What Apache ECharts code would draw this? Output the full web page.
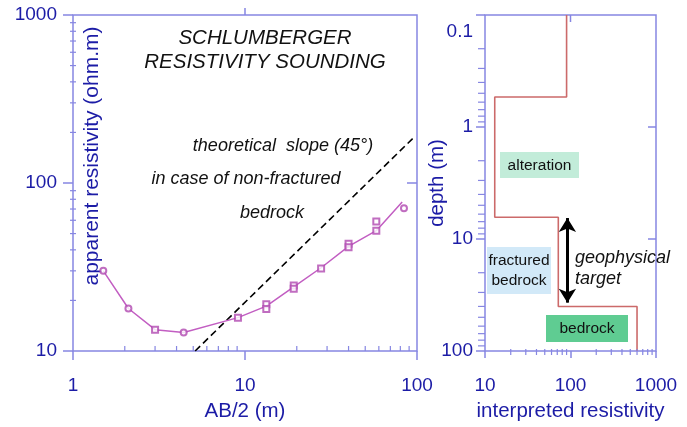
<!DOCTYPE html>
<html><head><meta charset="utf-8">
<script src="https://cdn.jsdelivr.net/npm/echarts@6/dist/echarts.min.js"></script>
<style>html,body{margin:0;padding:0;background:#fff}#c{width:687px;height:427px}</style>
</head><body><div id="c"></div>
<script>
// ---- Sounding curve (left panel) ----
const abHalf   = [1.5, 2.1, 3.0, 4.4, 9.1, 13.3, 19.2, 27.7, 40, 58, 82];
const rhoModel = [30, 17.9, 13.4, 12.9, 15.8, 18.5, 24.1, 31.3, 42, 52, 77];
const abCircle  = [1.5, 2.1, 4.4, 84];
const rhoCircle = [30, 17.9, 12.9, 70.8];
const abSquare  = [3.0, 9.1, 13.3, 13.3, 19.2, 19.2, 27.7, 40, 40, 58, 58];
const rhoSquare = [13.4, 15.8, 19, 17.8, 24.5, 23.5, 31, 43.5, 41.5, 59, 52];
const slopeAB  = [5.13, 96];
const slopeRho = [10, 187];
// ---- Interpreted layers (right panel) ----
const layerRes    = [90, 13, 72, 600];
const layerTop    = [0.1, 0.54, 6.4, 40];
const layerBottom = [0.54, 6.4, 40, 100];
const targetRes   = 92;
const targetDepth = [6.5, 37];
// ---- Tick values ----
const leftXMinor  = [2,3,4,5,6,7,8,9,20,30,40,50,60,70,80,90];
const leftYMinor  = [20,30,40,50,60,70,80,90,200,300,400,500,600,700,800,900];
const rightXMinor = [20,30,40,50,60,70,80,90,200,300,400,500,600,700,800,900];
const rightYMinor = [0.2,0.3,0.4,0.5,0.6,0.7,0.8,0.9,2,3,4,5,6,7,8,9,20,30,40,50,60,70,80,90];

const AXC = '#8686e2';
const LBL = '#1c1ca6';
const FONT = '"Liberation Sans", Arial, sans-serif';

const pairs = (xs, ys) => xs.map((x, i) => [x, ys[i]]);
const stepPts = [];
layerRes.forEach((r, i) => { stepPts.push([r, layerTop[i]]); stepPts.push([r, layerBottom[i]]); });

function tickSeries(xi, yi, vals, fixed, orient, a, b, w) {
  const data = vals.map(v => orient === 'v' ? [v, fixed] : [fixed, v]);
  return {
    type: 'custom', xAxisIndex: xi, yAxisIndex: yi, silent: true, clip: false, z: 5,
    data: data,
    renderItem: (params, api) => {
      const p = api.coord([api.value(0), api.value(1)]);
      const shape = orient === 'v'
        ? {x1: p[0], y1: p[1] + a, x2: p[0], y2: p[1] + b}
        : {x1: p[0] + a, y1: p[1], x2: p[0] + b, y2: p[1]};
      return {type: 'line', shape: shape, style: {stroke: AXC, lineWidth: w || 1.2}};
    }
  };
}

const chart = echarts.init(document.getElementById('c'), null, {renderer: 'canvas'});
const plain = v => String(v);
const baseLabel = {color: LBL, fontSize: 19, fontFamily: FONT, formatter: plain};
const nameStyle = {color: LBL, fontSize: 20.5, fontFamily: FONT};

chart.setOption({
  animation: false,
  backgroundColor: '#fff',
  grid: [
    {left: 73, top: 15, width: 344, height: 338, show: true, borderColor: AXC, borderWidth: 1.5, backgroundColor: 'transparent'},
    {left: 485, top: 15, width: 171, height: 338, show: true, borderColor: AXC, borderWidth: 1.5, backgroundColor: 'transparent'}
  ],
  xAxis: [
    {type: 'log', logBase: 10, min: 1, max: 100, gridIndex: 0,
     name: 'AB/2 (m)', nameLocation: 'middle', nameGap: 50, nameMoveOverlap: false, nameTextStyle: nameStyle,
     axisLine: {show: false}, splitLine: {show: false},
     axisTick: {show: true, length: 9, lineStyle: {color: AXC, width: 1.5}},
     axisLabel: Object.assign({margin: 25}, baseLabel)},
    {type: 'log', logBase: 10, min: 10, max: 1000, gridIndex: 1,
     name: 'interpreted resistivity', nameLocation: 'middle', nameGap: 50, nameMoveOverlap: false, nameTextStyle: nameStyle,
     axisLine: {show: false}, splitLine: {show: false},
     axisTick: {show: true, length: 7, lineStyle: {color: AXC, width: 1.5}},
     axisLabel: Object.assign({margin: 25}, baseLabel)}
  ],
  yAxis: [
    {type: 'log', logBase: 10, min: 10, max: 1000, gridIndex: 0,
     axisLine: {show: false}, splitLine: {show: false},
     axisTick: {show: true, length: 10, lineStyle: {color: AXC, width: 1.5}},
     axisLabel: Object.assign({margin: 16}, baseLabel)},
    {type: 'log', logBase: 10, min: 0.1, max: 100, gridIndex: 1, inverse: true,
     name: 'depth (m)', nameLocation: 'middle', nameGap: 37, nameMoveOverlap: false, nameTextStyle: nameStyle,
     axisLine: {show: false}, splitLine: {show: false},
     axisTick: {show: true, length: 9, lineStyle: {color: AXC, width: 1.5}},
     axisLabel: Object.assign({}, baseLabel, {margin: 12,
       formatter: v => v === 0.1 ? '{a|0.1}' : String(v),
       rich: {a: {color: LBL, fontSize: 19, fontFamily: FONT, padding: [34, 0, 0, 0]}}})}
  ],
  series: [
    {type: 'line', xAxisIndex: 0, yAxisIndex: 0, data: pairs(slopeAB, slopeRho), symbol: 'none',
     lineStyle: {color: '#000', width: 1.6, type: [7, 4]}, silent: true, z: 3},
    {type: 'line', xAxisIndex: 0, yAxisIndex: 0, data: pairs(abHalf, rhoModel), symbol: 'none',
     lineStyle: {color: '#c25ec2', width: 1.5}, silent: true, z: 4},
    {type: 'scatter', xAxisIndex: 0, yAxisIndex: 0, data: pairs(abCircle, rhoCircle),
     symbol: 'emptyCircle', symbolSize: 6, itemStyle: {color: '#b048b0', borderWidth: 1.2}, silent: true, z: 6},
    {type: 'scatter', xAxisIndex: 0, yAxisIndex: 0, data: pairs(abSquare, rhoSquare),
     symbol: 'emptyRect', symbolSize: 6, itemStyle: {color: '#b048b0', borderWidth: 1.2}, silent: true, z: 6},
    {type: 'line', xAxisIndex: 1, yAxisIndex: 1, data: stepPts, symbol: 'none',
     lineStyle: {color: '#cc6a6a', width: 1.6}, silent: true, z: 4,
     markLine: {silent: true, symbol: ['arrow', 'arrow'], symbolSize: [13, 14],
       label: {show: false}, lineStyle: {color: '#000', width: 3, type: 'solid'},
       data: [[{coord: [targetRes, targetDepth[0]]}, {coord: [targetRes, targetDepth[1]]}]]}},
    tickSeries(0, 0, leftXMinor, 10, 'v', -5, 0),
    tickSeries(0, 0, leftYMinor, 1, 'h', -3, 3),
    tickSeries(1, 1, rightXMinor, 100, 'v', -2, 4),
    tickSeries(1, 1, rightYMinor, 10, 'h', -7, 0),
    tickSeries(0, 0, [10], 1000, 'v', -7, 0, 1.5),
    tickSeries(0, 0, [100], 100, 'h', -10, 0, 1.5),
    tickSeries(1, 1, [100], 0.1, 'v', 0, 7, 1.5),
    tickSeries(1, 1, [1, 10], 1000, 'h', -8, 0, 1.5)
  ],
  graphic: [
    {type: 'text', x: 92, y: 156, rotation: Math.PI / 2,
     style: {text: 'apparent resistivity (ohm.m)', fill: LBL, font: '21px ' + FONT, align: 'center', verticalAlign: 'middle'}},
    {type: 'text', x: 265, y: 38, style: {text: 'SCHLUMBERGER', fill: '#111', font: 'italic 20.5px ' + FONT, align: 'center', verticalAlign: 'middle'}},
    {type: 'text', x: 265, y: 62, style: {text: 'RESISTIVITY SOUNDING', fill: '#111', font: 'italic 20.5px ' + FONT, align: 'center', verticalAlign: 'middle'}},
    {type: 'text', x: 283, y: 146, style: {text: 'theoretical  slope (45°)', fill: '#111', font: 'italic 18px ' + FONT, align: 'center', verticalAlign: 'middle'}},
    {type: 'text', x: 246, y: 179, style: {text: 'in case of non-fractured', fill: '#111', font: 'italic 18px ' + FONT, align: 'center', verticalAlign: 'middle'}},
    {type: 'text', x: 272, y: 213, style: {text: 'bedrock', fill: '#111', font: 'italic 18px ' + FONT, align: 'center', verticalAlign: 'middle'}},
    {type: 'rect', shape: {x: 500, y: 152, width: 79, height: 26}, style: {fill: '#c2ecd9'}, z: 10},
    {type: 'text', x: 539.5, y: 166, style: {text: 'alteration', fill: '#111', font: '15.5px ' + FONT, align: 'center', verticalAlign: 'middle'}, z: 11},
    {type: 'rect', shape: {x: 487, y: 247, width: 64, height: 47}, style: {fill: '#d2e9f8'}, z: 10},
    {type: 'text', x: 519, y: 271, style: {text: 'fractured\nbedrock', fill: '#111', font: '15.5px ' + FONT, align: 'center', verticalAlign: 'middle', lineHeight: 20}, z: 11},
    {type: 'rect', shape: {x: 546, y: 315, width: 82, height: 27}, style: {fill: '#5fcc92'}, z: 10},
    {type: 'text', x: 587, y: 329, style: {text: 'bedrock', fill: '#111', font: '15.5px ' + FONT, align: 'center', verticalAlign: 'middle'}, z: 11},
    {type: 'text', x: 575, y: 268, style: {text: 'geophysical\ntarget', fill: '#111', font: 'italic 18px ' + FONT, align: 'left', verticalAlign: 'middle', lineHeight: 21}, z: 11}
  ]
});
</script></body></html>
